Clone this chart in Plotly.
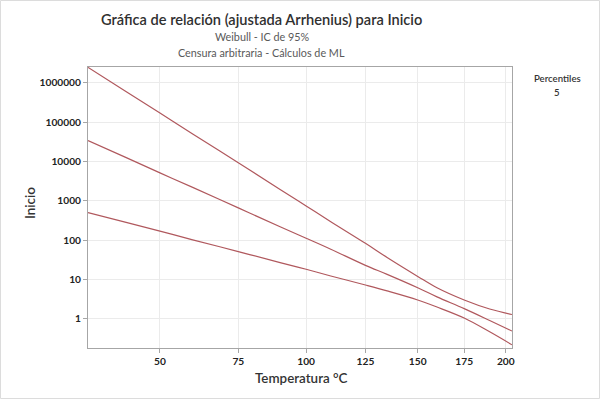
import plotly.graph_objects as go

# Temperature (°C) at which each curve is read
temps = [30, 40, 50, 60, 75, 90, 100, 110, 125, 135, 150, 160, 175, 190, 204]
# Upper 95% CI bound of the 5th percentile
upper = [2455000, 617000, 170000, 50100, 9330, 1950, 741, 295, 83.2, 36.3, 12.0, 6.17, 3.02, 1.78, 1.29]
# 5th percentile (fitted)
percentile5 = [33900, 12900, 5130, 2190, 661, 219, 112, 58.9, 22.9, 13.5, 6.17, 3.63, 1.82, 0.91, 0.49]
# Lower 95% CI bound
lower = [501, 288, 170, 102, 51.3, 26.9, 18.2, 12.3, 7.24, 5.13, 3.02, 2.0, 1.05, 0.468, 0.219]

x_ticks = [50, 75, 100, 125, 150, 175, 200]
y_ticks = [1, 10, 100, 1000, 10000, 100000, 1000000]
y_labels = ["1", "10", "100", "1000", "10000", "100000", "1000000"]


def arr(t):
    # Arrhenius scale: 1 / absolute temperature
    return 1.0 / (t + 273.15)


line_color = "#b0585d"
fig = go.Figure()
for name, ys in [("upper", upper), ("5", percentile5), ("lower", lower)]:
    fig.add_trace(go.Scatter(
        x=[arr(t) for t in temps], y=ys, mode="lines",
        line=dict(color=line_color, width=1.2, shape="spline", smoothing=1.0),
        showlegend=False, hoverinfo="skip", name=name))

font_family = "Lato, Open Sans, sans-serif"
tick_font = dict(size=10.2, color="#222222", family=font_family, weight="bold")
fig.update_layout(
    width=600, height=399,
    margin=dict(l=88, r=88, t=67, b=51),
    paper_bgcolor="white", plot_bgcolor="white",
    font=dict(family=font_family, color="#333333"),
    xaxis=dict(
        range=[arr(30), arr(204)],
        tickvals=[arr(t) for t in x_ticks], ticktext=[str(t) for t in x_ticks],
        showgrid=True, gridcolor="#ebebeb", gridwidth=1,
        showline=True, linecolor="#a6a6a6", linewidth=1, mirror=True,
        ticks="outside", ticklen=4, tickcolor="#a6a6a6",
        tickfont=tick_font, zeroline=False,
    ),
    yaxis=dict(
        type="log", range=[-0.74, 6.40],
        tickvals=y_ticks, ticktext=y_labels,
        showgrid=True, gridcolor="#ebebeb", gridwidth=1,
        showline=True, linecolor="#a6a6a6", linewidth=1, mirror=True,
        ticks="outside", ticklen=4, tickcolor="#a6a6a6",
        tickfont=tick_font, zeroline=False,
    ),
)


def px_x(px):
    return (px - 88) / 424.0


def px_y(py):
    return (348 - py) / 281.0


annotations = [
    dict(text="Gráfica de relación (ajustada Arrhenius) para Inicio", x=px_x(261), y=px_y(20),
         font=dict(size=14.6, color="#303030", weight=600)),
    dict(text="Weibull - IC de 95%", x=px_x(262), y=px_y(36), font=dict(size=10.8, color="#595959")),
    dict(text="Censura arbitraria - Cálculos de ML", x=px_x(261), y=px_y(52), font=dict(size=10.8, color="#595959")),
    dict(text="Inicio", x=px_x(30), y=px_y(203), textangle=-90, font=dict(size=13.4, color="#333333", weight=600)),
    dict(text="Temperatura °C", x=px_x(301), y=px_y(378), font=dict(size=13.4, color="#333333", weight=600)),
    dict(text="Percentiles", x=px_x(557), y=px_y(78), font=dict(size=9.6, color="#333333", weight=600)),
    dict(text="5", x=px_x(557), y=px_y(92), font=dict(size=9.6, color="#333333", weight=600)),
]
for a in annotations:
    a.update(xref="paper", yref="paper", showarrow=False, xanchor="center", yanchor="middle")
    a["font"]["family"] = font_family
fig.update_layout(annotations=annotations)

# light frame around the whole figure
fig.add_shape(type="rect", xref="paper", yref="paper",
              x0=px_x(0.5), x1=px_x(599.5), y0=px_y(398.5), y1=px_y(0.5),
              line=dict(color="#dcdcdc", width=1), layer="below")

fig.write_html("out.html", config={"displayModeBar": False},
               post_script="document.body.style.margin='0';")
